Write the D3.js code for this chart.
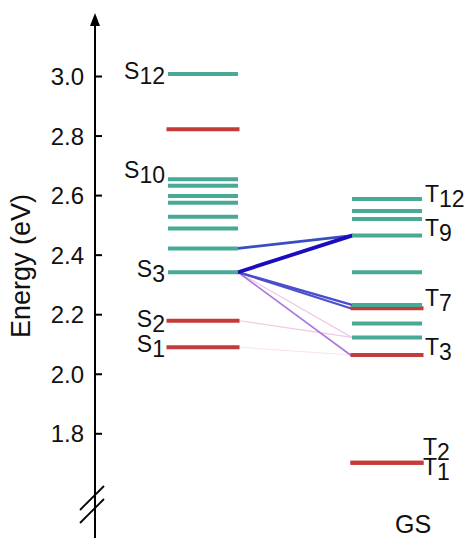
<!DOCTYPE html>
<html>
<head>
<meta charset="utf-8">
<script src="https://cdn.jsdelivr.net/npm/d3@7"></script>
<style>
  html, body { margin: 0; padding: 0; background: #fff; }
  svg { display: block; }
  text { font-family: "Liberation Sans", Arial, sans-serif; fill: #111; }
</style>
</head>
<body>
<svg id="chart" width="469" height="538"></svg>
<script>
// ---- data ----
const singletEnergies = [2.089, 2.178, 2.341, 2.421, 2.488, 2.527, 2.574, 2.597, 2.631, 2.653, 2.821, 3.007];
const singletKinds    = ["B", "B", "A", "A", "A", "A", "A", "A", "A", "A", "B", "A"];
const singletLabels   = ["1", "2", "3", "", "", "", "", "", "", "10", "", "12"];

const tripletEnergies = [1.701, 1.701, 2.063, 2.122, 2.169, 2.220, 2.231, 2.341, 2.464, 2.520, 2.547, 2.587];
const tripletKinds    = ["B", "B", "B", "A", "A", "B", "A", "A", "A", "A", "A", "A"];
const tripletLabels   = ["1", "2", "3", "", "", "", "7", "", "9", "", "", "12"];

// couplings: singlet index (1-based) -> triplet index (1-based), strength
const linkFrom     = [3, 4, 3, 3, 3, 3, 2, 1];
const linkTo       = [9, 9, 7, 6, 3, 4, 4, 3];
const linkStrength = [1.0, 0.7, 0.5, 0.45, 0.3, 0.15, 0.13, 0.06];

const yTicks = [1.8, 2.0, 2.2, 2.4, 2.6, 2.8, 3.0];
const columns = ["S", "T"];

// ---- scales ----
const svg = d3.select("#chart");
const y = d3.scaleLinear().domain([1.8, 3.0]).range([433.3, 76]);
const x = d3.scalePoint().domain(columns).range([203, 387]);
const kindColor = d3.scaleOrdinal().domain(["A", "B"]).range(["#47a996", "#c73a3a"]);
const linkColor = d3.scaleLinear()
  .domain([0.05, 0.15, 0.3, 0.45, 0.7, 1.0])
  .range(["#f9e3ef", "#efc3e3", "#ab7ade", "#4d4fcd", "#3a4cc2", "#1a0dbd"]);
const linkWidth = d3.scaleLinear().domain([0, 1]).range([0.8, 3.8]);
const halfW = k => k === "B" ? 36.5 : 35;

// ---- axis ----
const axisX = 95;
const axis = d3.axisLeft(y).tickValues(yTicks).tickFormat(d3.format(".1f"))
  .tickSizeInner(-7).tickSizeOuter(0).tickPadding(11);
const ag = svg.append("g").attr("transform", `translate(${axisX},0)`).call(axis);
ag.select(".domain").remove();
ag.selectAll(".tick line").attr("stroke", "#000").attr("stroke-width", 2);
ag.selectAll(".tick text").style("font-family", '"Liberation Sans", Arial, sans-serif')
  .style("font-size", "24px").attr("fill", "#111").attr("dy", "0.36em");

svg.append("line").attr("x1", axisX).attr("x2", axisX).attr("y1", 22).attr("y2", 538)
  .attr("stroke", "#000").attr("stroke-width", 2);
svg.append("path").attr("d", `M${axisX},13 L${axisX - 5},26 L${axisX + 5},26 Z`).attr("fill", "#000");

// axis break
[486, 499].forEach(b => {
  svg.append("line").attr("x1", axisX + 9).attr("y1", b)
    .attr("x2", axisX - 15).attr("y2", b + 24)
    .attr("stroke", "#000").attr("stroke-width", 1.8);
});

svg.append("text").attr("transform", "translate(29.5,266) rotate(-90)")
  .attr("text-anchor", "middle").style("font-size", "27px").text("Energy (eV)");

// ---- links ----
const linkData = linkFrom.map((f, i) => ({
  f, t: linkTo[i], s: linkStrength[i]
})).sort((a, b) => a.s - b.s);
svg.append("g").selectAll("line").data(linkData).join("line")
  .attr("x1", d => x("S") + halfW(singletKinds[d.f - 1]))
  .attr("y1", d => y(singletEnergies[d.f - 1]))
  .attr("x2", d => x("T") - halfW(tripletKinds[d.t - 1]))
  .attr("y2", d => y(tripletEnergies[d.t - 1]))
  .attr("stroke", d => linkColor(d.s))
  .attr("stroke-width", d => linkWidth(d.s))
  .attr("stroke-linecap", "round");

// ---- levels ----
function drawLevels(col, energies, kinds) {
  svg.append("g").selectAll("line").data(energies).join("line")
    .attr("x1", (d, i) => x(col) - halfW(kinds[i]))
    .attr("x2", (d, i) => x(col) + halfW(kinds[i]))
    .attr("y1", d => y(d)).attr("y2", d => y(d))
    .attr("stroke", (d, i) => kindColor(kinds[i]))
    .attr("stroke-width", 4);
}
drawLevels("S", singletEnergies, singletKinds);
drawLevels("T", tripletEnergies, tripletKinds);

// ---- labels ----
const sOffset = { "1": 4.5, "2": 6, "3": 5, "10": -1, "12": 5 };
singletLabels.forEach((lab, i) => {
  if (!lab) return;
  const t = svg.append("text").attr("text-anchor", "end")
    .attr("x", x("S") - 38).attr("y", y(singletEnergies[i]) + sOffset[lab])
    .style("font-size", "23px");
  t.append("tspan").text("S");
  t.append("tspan").attr("dy", 5).text(lab);
});

// triplet labels; degenerate levels share one stacked label
const tOffset = { "3": 0.5, "7": 1.5, "9": 0.5, "12": 3 };
const tGroups = d3.groups(
  tripletLabels.map((lab, i) => ({ lab, e: tripletEnergies[i] })).filter(d => d.lab),
  d => d.e);
tGroups.forEach(([e, items]) => {
  if (items.length === 1) {
    const lab = items[0].lab;
    const t = svg.append("text")
      .attr("x", 425).attr("y", y(e) + tOffset[lab])
      .style("font-size", "23px");
    t.append("tspan").text("T");
    t.append("tspan").attr("dy", 5).text(lab);
  } else {
    const ordered = items.slice().reverse(); // higher index on top
    const t = svg.append("text").attr("x", 423).attr("y", y(e) - 8)
      .style("font-size", "23px");
    ordered.forEach((it, k) => {
      if (k === 0) {
        t.append("tspan").text("T");
      } else {
        t.append("tspan").attr("x", 423).attr("dy", 15).text("T");
      }
      t.append("tspan").attr("dy", 5).text(it.lab);
    });
  }
});

svg.append("text").attr("x", 413).attr("y", 533).attr("text-anchor", "middle")
  .style("font-size", "25px").text("GS");
</script>
</body>
</html>
